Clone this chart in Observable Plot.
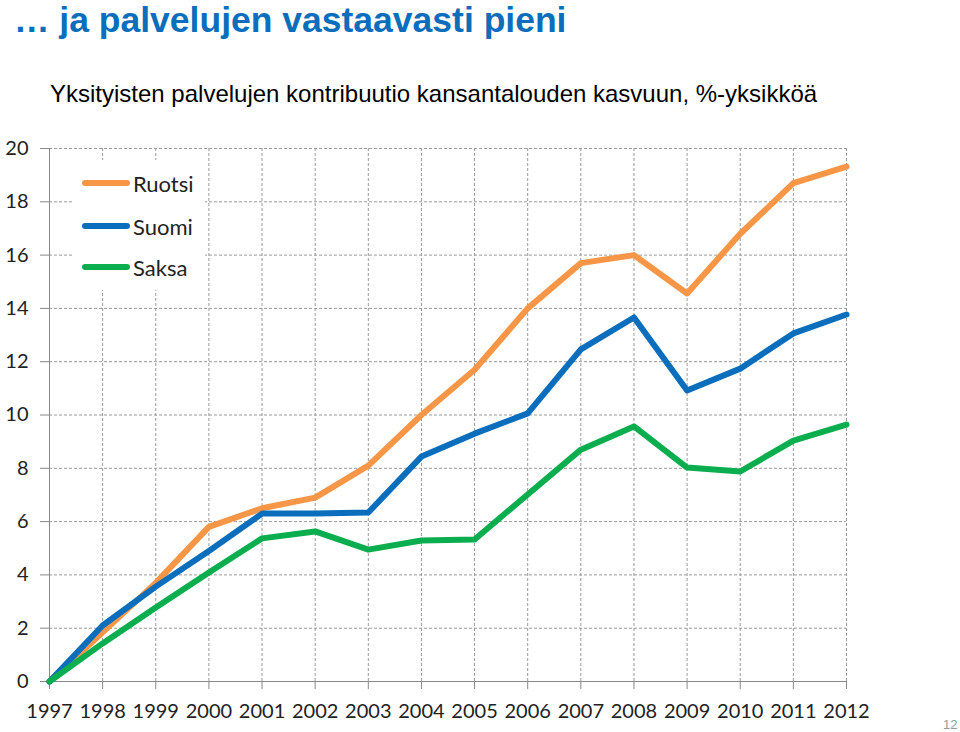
<!DOCTYPE html>
<html><head><meta charset="utf-8">
<script src="https://cdn.jsdelivr.net/npm/d3@7"></script>
<script src="https://cdn.jsdelivr.net/npm/@observablehq/plot@0.6"></script>
<style>
body{margin:0;background:#fff;width:960px;height:732px;position:relative;overflow:hidden;font-family:"Liberation Sans",Arial,sans-serif}
#title{position:absolute;left:14px;top:0px;font-size:35.5px;font-weight:bold;color:#0A6EBD;line-height:1.15;white-space:nowrap}
#subtitle{position:absolute;left:50px;top:82px;font-size:24px;color:#000;line-height:1;white-space:nowrap}
#chart{position:absolute;left:0;top:120px}
#legend{position:absolute;left:73px;top:160px;width:132px;height:130px;background:#fff;font-family:Lato,sans-serif;font-size:22px;color:#222}
.row{position:absolute;left:0;height:24px;display:flex;align-items:center;white-space:nowrap}
.bar{width:48px;height:6px;border-radius:3px;margin-left:9px;margin-right:3px}
#page{position:absolute;left:943px;top:717px;font-size:13px;color:#999}
</style></head>
<body>
<div id="title">… ja palvelujen vastaavasti pieni</div>
<div id="subtitle">Yksityisten palvelujen kontribuutio kansantalouden kasvuun, %-yksikköä</div>
<div id="chart"></div>
<div id="legend"></div>
<div id="page">12</div>
<script>
const years = [1997,1998,1999,2000,2001,2002,2003,2004,2005,2006,2007,2008,2009,2010,2011,2012];
const ruotsi = [0,1.85,3.7,5.8,6.5,6.9,8.1,10.0,11.7,14.0,15.7,16.0,14.56,16.8,18.7,19.32];
const suomi  = [0,2.1,3.56,4.9,6.3,6.3,6.34,8.44,9.3,10.06,12.46,13.66,10.92,11.74,13.06,13.77];
const saksa  = [0,1.43,2.78,4.09,5.37,5.63,4.95,5.29,5.33,7.02,8.7,9.57,8.03,7.88,9.04,9.64];
const seriesNames = ["Ruotsi","Suomi","Saksa"];
const seriesColors = ["#F79646","#0A6EBD","#0BAE4E"];
const yTicks = [0,2,4,6,8,10,12,14,16,18,20];

const valuesBySeries = [ruotsi, suomi, saksa];
const data = [];
seriesNames.forEach((s, i) => years.forEach((yr, j) => data.push({series: s, year: yr, value: valuesBySeries[i][j]})));

const grid = {stroke:"#9a9a9a", strokeOpacity:1, strokeDasharray:"3,2", strokeWidth:1};
const chart = Plot.plot({
  width: 960, height: 612,
  marginTop: 28, marginBottom: 51, marginLeft: 49, marginRight: 114,
  x: {domain: [1997, 2012]},
  y: {domain: [0, 20]},
  color: {domain: seriesNames, range: seriesColors},
  style: {fontFamily: "Lato, sans-serif", fontSize: "20px", color: "#222", background: "transparent"},
  marks: [
    Plot.gridX(years.slice(1), grid),
    Plot.gridY(yTicks.slice(1), grid),
    Plot.ruleX([1997], {stroke: "#888"}),
    Plot.ruleY([0], {stroke: "#888"}),
    Plot.axisY(yTicks, {tickSize: 9, tickPadding: 12, stroke: "#888", fill: "#222", label: null}),
    Plot.axisX(years, {tickSize: 8, tickPadding: 14, tickFormat: "d", stroke: "#888", fill: "#222", label: null}),
    Plot.line(data, {x: "year", y: "value", z: "series", stroke: "series", strokeWidth: 6, strokeLinejoin: "round", strokeLinecap: "round"})
  ]
});
document.getElementById("chart").appendChild(chart);

const legend = document.getElementById("legend");
const rowTops = [11, 54, 95];
seriesNames.forEach((s, i) => {
  const row = document.createElement("div");
  row.className = "row";
  row.style.top = rowTops[i] + "px";
  const bar = document.createElement("div");
  bar.className = "bar";
  bar.style.background = seriesColors[i];
  const label = document.createElement("span");
  label.textContent = s;
  row.appendChild(bar); row.appendChild(label);
  legend.appendChild(row);
});
</script>
</body></html>
